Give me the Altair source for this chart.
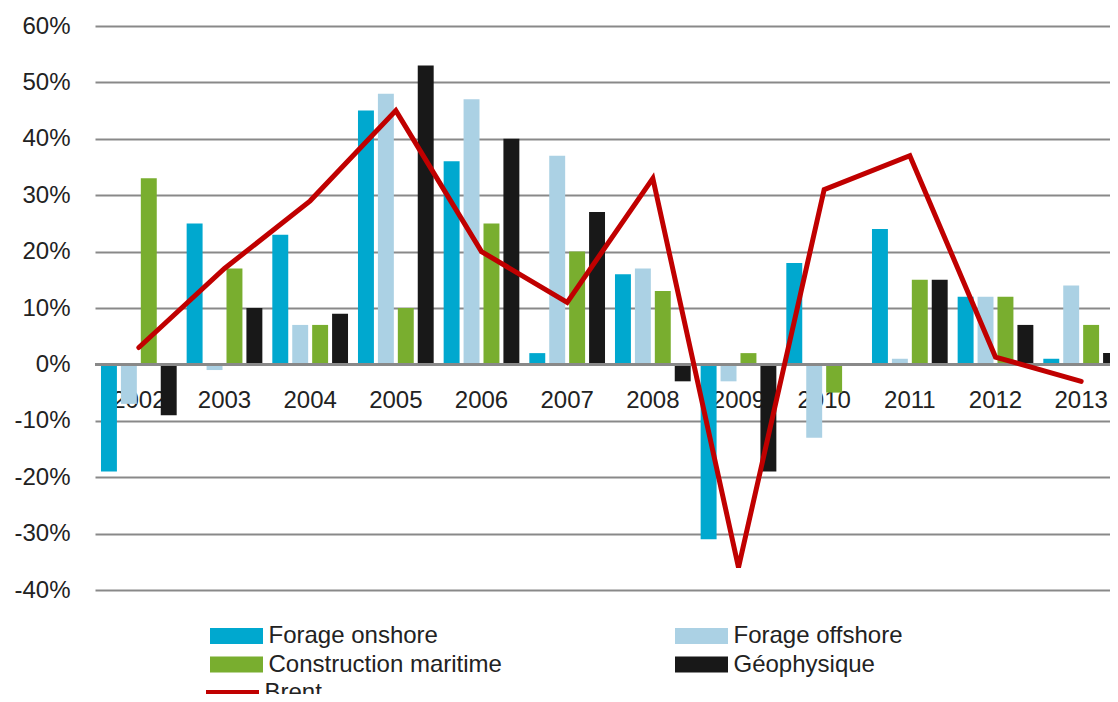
import altair as alt
import pandas as pd

years = [str(y) for y in range(2002, 2014)]
series = ["Forage onshore", "Forage offshore", "Construction maritime", "Géophysique"]
forage_onshore = [-19, 25, 23, 45, 36, 2, 16, -31, 18, 24, 12, 1]
forage_offshore = [-7, -1, 7, 48, 47, 37, 17, -3, -13, 1, 12, 14]
construction_maritime = [33, 17, 7, 10, 25, 20, 13, 2, -5, 15, 12, 7]
geophysique = [-9, 10, 9, 53, 40, 27, -3, -19, 0, 15, 7, 2]
brent = [3, 17, 29, 45, 20, 11, 33, -36, 31, 37, 1.3, -3]
y_ticks = [-40, -30, -20, -10, 0, 10, 20, 30, 40, 50, 60]
zero = [0]

bar_colors = ["#00a8cf", "#abd1e4", "#79ae2f", "#181818"]
# legend order (column-major in two columns): onshore, construction | offshore, geophysique
legend_order = ["Forage onshore", "Construction maritime", "Forage offshore", "Géophysique"]
legend_colors = ["#00a8cf", "#79ae2f", "#abd1e4", "#181818"]
brent_color = "#c00000"
grid_color = "#898989"
text_color = "#222222"

rows = []
for s, vals in zip(series, [forage_onshore, forage_offshore, construction_maritime, geophysique]):
    for y, v in zip(years, vals):
        rows.append({"year": y, "series": s, "value": v})
bars_df = pd.DataFrame(rows)
brent_df = pd.DataFrame({"year": years, "value": brent, "name": ["Brent"] * len(years)})
zero_df = pd.DataFrame({"v": zero})

x_scale = alt.Scale(domain=years, paddingInner=0, paddingOuter=0.0117)
y_scale = alt.Scale(domain=[-40, 60], nice=False)

x_axis = alt.Axis(title=None, orient="bottom", offset=-226, domain=False, ticks=False,
                  labelFontSize=24, labelPadding=24, labelColor=text_color, labelAngle=0, grid=False)
y_axis = alt.Axis(title=None, values=y_ticks, labelExpr="datum.value + '%'", domain=False, ticks=False,
                  grid=True, gridColor=grid_color, gridWidth=2, labelFontSize=24, labelPadding=25,
                  labelColor=text_color)

bar_path = "M-3.3125,-1L3.3125,-1L3.3125,1L-3.3125,1Z"
line_path = "M-3.3125,0L3.3125,0"

bars = alt.Chart(bars_df).mark_bar().encode(
    x=alt.X("year:N", scale=x_scale, axis=x_axis, sort=years),
    xOffset=alt.XOffset("series:N", sort=series,
                        scale=alt.Scale(domain=series, paddingInner=0.2, paddingOuter=0.25)),
    y=alt.Y("value:Q", scale=y_scale, axis=y_axis),
    color=alt.Color("series:N", scale=alt.Scale(domain=legend_order, range=legend_colors),
                    legend=alt.Legend(title=None, orient="none", legendX=115, legendY=598,
                                      columns=2, symbolType=bar_path, symbolSize=256,
                                      symbolStrokeWidth=0, symbolOffset=14.5, labelOffset=20,
                                      labelFontSize=24, labelColor=text_color, labelLimit=500,
                                      rowPadding=4.5, columnPadding=173, padding=0)),
)

zero_rule = alt.Chart(zero_df).mark_rule(color=grid_color, strokeWidth=3).encode(
    y=alt.Y("v:Q", scale=y_scale, axis=y_axis)
)

line = alt.Chart(brent_df).mark_line(strokeWidth=5, strokeCap="round", strokeJoin="miter").encode(
    x=alt.X("year:N", scale=x_scale, axis=x_axis, sort=years),
    y=alt.Y("value:Q", scale=y_scale, axis=y_axis),
    stroke=alt.Stroke("name:N", scale=alt.Scale(domain=["Brent"], range=[brent_color]),
                      legend=alt.Legend(title=None, orient="none", legendX=111, legendY=655,
                                        symbolType=line_path, symbolSize=256, symbolStrokeWidth=6,
                                        symbolOffset=14.5, labelOffset=20, labelFontSize=24,
                                        labelColor=text_color, padding=0)),
)

chart = alt.layer(bars, zero_rule, line).properties(
    width=1030, height=564,
    autosize=alt.AutoSizeParams(type="none"),
    padding={"left": 87, "top": 18, "right": -15, "bottom": 104},
).configure(font="Liberation Sans").configure_view(stroke=None)

chart.save("out.html", embed_options={"renderer": "svg", "actions": False})
